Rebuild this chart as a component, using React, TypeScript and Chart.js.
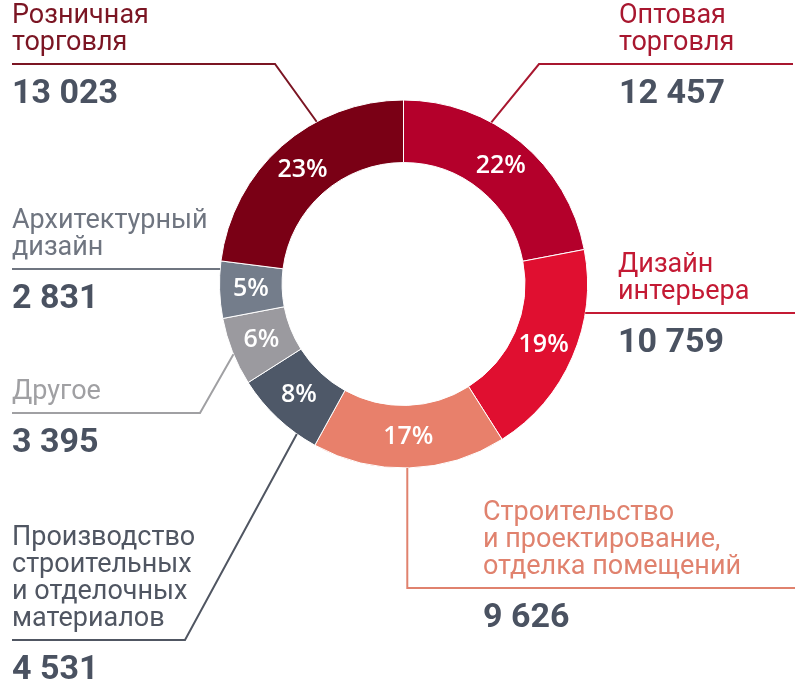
import React, { useEffect, useRef } from "react";
import { Chart, registerables } from "chart.js";

Chart.register(...registerables);

// ---- data ----
const categories = [
  "Оптовая торговля",
  "Дизайн интерьера",
  "Строительство и проектирование, отделка помещений",
  "Производство строительных и отделочных материалов",
  "Другое",
  "Архитектурный дизайн",
  "Розничная торговля",
];
const labelLines = [
  ["Оптовая", "торговля"],
  ["Дизайн", "интерьера"],
  ["Строительство", "и проектирование,", "отделка помещений"],
  ["Производство", "строительных", "и отделочных", "материалов"],
  ["Другое"],
  ["Архитектурный", "дизайн"],
  ["Розничная", "торговля"],
];
const values = [12457, 10759, 9626, 4531, 3395, 2831, 13023];

// ---- styles ----
const sliceColors = ["#b4002b", "#e00f30", "#e8806b", "#4e5868", "#9b9a9f", "#747d8b", "#7a0015"];
const textColors = ["#a8172f", "#c41a34", "#e0826e", "#505662", "#a0a0a3", "#6f7580", "#7b1523"];
const numberColor = "#4a5261";

// ---- callout layout ----
type Callout = {
  f: number;
  kind: "elbow" | "h" | "v";
  elbow?: [number, number];
  lineY?: number;
  end: number;
  textX: number;
};
const callouts: Callout[] = [
  { f: 0.36, kind: "elbow", elbow: [539, 64], end: 793, textX: 619 },
  { f: 0.29, kind: "h", end: 795, textX: 618 },
  { f: 0.51, kind: "v", lineY: 588, end: 795, textX: 483 },
  { f: 0.23, kind: "elbow", elbow: [185, 640], end: 12, textX: 12 },
  { f: 0.46, kind: "elbow", elbow: [200, 413], end: 12, textX: 12 },
  { f: 0.86, kind: "h", end: 12, textX: 12 },
  { f: 0.66, kind: "elbow", elbow: [275, 64], end: 12, textX: 12 },
];

const fmt = (v: number) => v.toString().replace(/\B(?=(\d{3})+(?!\d))/g, " ");

const calloutPlugin = {
  id: "callouts",
  afterDatasetsDraw(chart: any) {
    const ctx = chart.ctx as CanvasRenderingContext2D;
    const meta = chart.getDatasetMeta(0);
    const data = chart.data.datasets[0].data as number[];
    const total = data.reduce((a, b) => a + b, 0);
    ctx.save();
    meta.data.forEach((arc: any, i: number) => {
      // percent label
      const p = arc.tooltipPosition();
      ctx.fillStyle = "#ffffff";
      ctx.font = "600 25px 'Open Sans'";
      ctx.textAlign = "center";
      ctx.textBaseline = "middle";
      ctx.fillText(Math.round((data[i] / total) * 100) + "%", p.x, p.y);

      // leader line
      const c = callouts[i];
      const a = arc.startAngle + c.f * (arc.endAngle - arc.startAngle);
      const ax = arc.x + Math.cos(a) * arc.outerRadius;
      const ay = arc.y + Math.sin(a) * arc.outerRadius;
      let lineY = ay;
      ctx.strokeStyle = textColors[i];
      ctx.lineWidth = 2;
      ctx.beginPath();
      ctx.moveTo(ax, ay);
      if (c.kind === "elbow" && c.elbow) {
        lineY = c.elbow[1];
        ctx.lineTo(c.elbow[0], c.elbow[1]);
        ctx.lineTo(c.end, lineY);
      } else if (c.kind === "h") {
        ctx.lineTo(c.end, ay);
      } else if (c.kind === "v" && c.lineY !== undefined) {
        lineY = c.lineY;
        ctx.lineTo(ax, lineY);
        ctx.lineTo(c.end, lineY);
      }
      ctx.stroke();

      // texts
      ctx.textAlign = "left";
      ctx.textBaseline = "alphabetic";
      ctx.fillStyle = textColors[i];
      ctx.font = "400 27px Roboto";
      const lines = labelLines[i];
      lines.forEach((ln, k) => {
        const y = lineY - 14 - (lines.length - 1 - k) * 27;
        ctx.fillText(ln, c.textX, y);
      });
      ctx.fillStyle = numberColor;
      ctx.font = "700 34px Roboto";
      ctx.fillText(fmt(data[i]), c.textX, lineY + 39);
    });
    ctx.restore();
  },
};

export default function App() {
  const ref = useRef<HTMLCanvasElement | null>(null);
  useEffect(() => {
    if (!ref.current) return;
    const chart = new Chart(ref.current, {
      type: "doughnut",
      data: {
        labels: categories,
        datasets: [
          {
            data: values,
            backgroundColor: sliceColors,
            borderColor: "#ffffff",
            borderWidth: 1,
            hoverOffset: 0,
          },
        ],
      },
      options: {
        responsive: false,
        maintainAspectRatio: false,
        animation: false,
        cutout: "66%",
        layout: { padding: { left: 219, right: 212, top: 99, bottom: 221 } },
        plugins: { legend: { display: false }, tooltip: { enabled: false } },
        events: [],
      },
      plugins: [calloutPlugin],
    });
    return () => chart.destroy();
  }, []);
  return (
    <div style={{ position: "fixed", left: 0, top: 0, width: 800, height: 690, background: "#fff" }}>
      <canvas ref={ref} width={800} height={690} />
    </div>
  );
}
